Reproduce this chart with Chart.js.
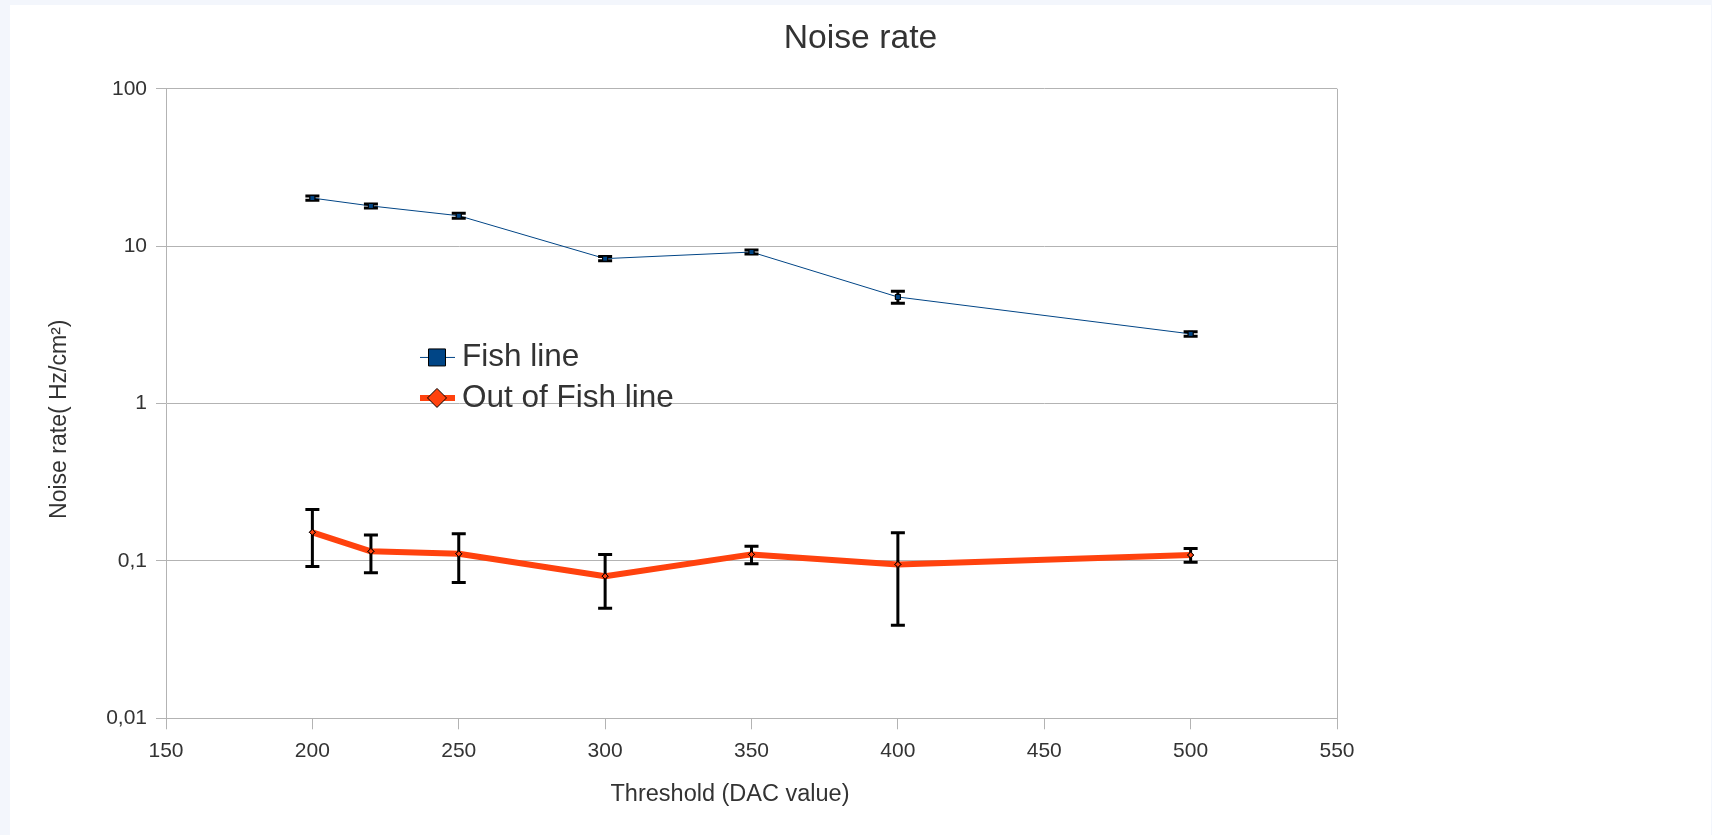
<!DOCTYPE html>
<html>
<head>
<meta charset="utf-8">
<title>Noise rate</title>
<script src="https://cdn.jsdelivr.net/npm/chart.js@4.4.1/dist/chart.umd.min.js"></script>
<style>
  html, body { margin: 0; padding: 0; width: 1712px; height: 835px; overflow: hidden; background: #f3f6fc; }
  #panel { position: absolute; left: 10px; top: 5px; width: 1701px; height: 830px; background: #ffffff; }
  canvas { display: block; }
</style>
</head>
<body>
<div id="panel"><canvas id="chart" width="1701" height="830"></canvas></div>
<script>
// Threshold scan: measured noise rate per DAC threshold, with uncertainties
const thresholds = [200, 220, 250, 300, 350, 400, 500];
const fishRate   = [20.2, 18.0, 15.6, 8.33, 9.17, 4.75, 2.77];
const fishErr    = [0.65, 0.55, 0.57, 0.27, 0.27, 0.42, 0.09];
const outRate    = [0.152, 0.115, 0.111, 0.080, 0.110, 0.095, 0.109];
const outErr     = [0.060, 0.031, 0.038, 0.030, 0.014, 0.056, 0.011];

const seriesNames = ['Fish line', 'Out of Fish line'];
const yTickValues = [0.01, 0.1, 1, 10, 100];
const yTickLabels = ['0,01', '0,1', '1', '10', '100'];
const xTickValues = [150, 200, 250, 300, 350, 400, 450, 500, 550];

const chartTitle = 'Noise rate';
const xTitle = 'Threshold (DAC value)';
const yTitle = 'Noise rate( Hz/cm²)';

const FONT = '"Liberation Sans", Arial, sans-serif';
const TEXT = '#333333';
const GRID = '#b3b3b3';

const toPoints = (xs, ys) => xs.map((x, i) => ({ x: x, y: ys[i] }));

// Vertical error bars with caps, drawn on top of the lines; markers are redrawn above them
const errorBars = {
  id: 'errorBars',
  afterDatasetsDraw(chart) {
    const { ctx, scales: { x, y } } = chart;
    ctx.save();
    ctx.strokeStyle = '#000000';
    ctx.lineWidth = 3;
    chart.data.datasets.forEach((ds) => {
      if (!ds.errors) return;
      ds.data.forEach((p, j) => {
        const e = ds.errors[j];
        const px = x.getPixelForValue(p.x);
        const top = y.getPixelForValue(p.y + e);
        const bot = y.getPixelForValue(p.y - e);
        ctx.beginPath();
        ctx.moveTo(px, top); ctx.lineTo(px, bot);
        ctx.moveTo(px - 7, top); ctx.lineTo(px + 7, top);
        ctx.moveTo(px - 7, bot); ctx.lineTo(px + 7, bot);
        ctx.stroke();
      });
    });
    ctx.restore();
    chart.data.datasets.forEach((ds, i) => {
      chart.getDatasetMeta(i).data.forEach(pt => pt.draw(ctx, chart.chartArea));
    });
  }
};

// Axis titles and the in-plot legend
const annotations = {
  id: 'annotations',
  afterDraw(chart) {
    const { ctx, chartArea: a } = chart;
    ctx.save();
    ctx.fillStyle = TEXT;

    // x axis title
    ctx.font = '23.5px ' + FONT;
    ctx.textAlign = 'center';
    ctx.textBaseline = 'alphabetic';
    ctx.fillText(xTitle, (a.left + a.right) / 2 - 21.5, a.bottom + 82.7);

    // y axis title, rotated
    ctx.save();
    ctx.font = '23px ' + FONT;
    ctx.translate(55.7, (a.top + a.bottom) / 2 + 15.7);
    ctx.rotate(-Math.PI / 2);
    ctx.fillText(yTitle, 0, 0);
    ctx.restore();

    // legend
    const lineX0 = a.left + 254, lineX1 = a.left + 289, mx = a.left + 271;
    const textX = a.left + 296;
    chart.data.datasets.forEach((ds, i) => {
      const cy = a.top + 268.7 + i * 40.5;
      ctx.strokeStyle = ds.borderColor;
      ctx.lineWidth = ds.borderWidth;
      ctx.beginPath();
      ctx.moveTo(lineX0, cy); ctx.lineTo(lineX1, cy);
      ctx.stroke();

      ctx.fillStyle = ds.pointBackgroundColor;
      ctx.strokeStyle = '#000000';
      ctx.lineWidth = 1;
      ctx.beginPath();
      if (ds.pointStyle === 'rect') {
        ctx.rect(mx - 8.5, cy - 8.5, 17, 17);
      } else {
        ctx.moveTo(mx, cy - 9.5); ctx.lineTo(mx + 9.5, cy);
        ctx.lineTo(mx, cy + 9.5); ctx.lineTo(mx - 9.5, cy);
        ctx.closePath();
      }
      ctx.fill();
      ctx.stroke();

      ctx.fillStyle = TEXT;
      ctx.font = '31.5px ' + FONT;
      ctx.textAlign = 'left';
      ctx.textBaseline = 'alphabetic';
      ctx.fillText(ds.label, textX, cy + 9);
    });
    ctx.restore();
  }
};

new Chart(document.getElementById('chart'), {
  type: 'line',
  data: {
    datasets: [
      {
        label: seriesNames[0],
        data: toPoints(thresholds, fishRate),
        errors: fishErr,
        borderColor: '#004586',
        borderWidth: 1,
        pointStyle: 'rect',
        pointRadius: 3.5,
        pointBackgroundColor: '#004586',
        pointBorderColor: '#000000',
        pointBorderWidth: 1,
        tension: 0
      },
      {
        label: seriesNames[1],
        data: toPoints(thresholds, outRate),
        errors: outErr,
        borderColor: '#ff420e',
        borderWidth: 6,
        borderJoinStyle: 'round',
        pointStyle: 'rectRot',
        pointRadius: 3,
        pointBackgroundColor: '#ff420e',
        pointBorderColor: '#000000',
        pointBorderWidth: 1,
        tension: 0
      }
    ]
  },
  options: {
    responsive: false,
    animation: false,
    devicePixelRatio: 1,
    layout: { padding: 0 },
    plugins: {
      legend: { display: false },
      tooltip: { enabled: false },
      title: {
        display: true,
        text: chartTitle,
        color: TEXT,
        font: { family: FONT, size: 33.7, weight: 'normal' },
        padding: { top: 13, bottom: 30.3 }
      }
    },
    scales: {
      x: {
        type: 'linear',
        min: 150,
        max: 550,
        afterFit(scale) { scale.height = 116.7; },
        afterBuildTicks(scale) { scale.ticks = xTickValues.map(v => ({ value: v })); },
        ticks: {
          color: TEXT,
          font: { family: FONT, size: 21 },
          padding: 9,
          maxRotation: 0,
          callback: v => String(v)
        },
        grid: {
          drawOnChartArea: true,
          color: ctx => (ctx.tick && ctx.tick.value === 550 ? GRID : 'rgba(0,0,0,0)'),
          tickColor: GRID,
          tickLength: 11,
          lineWidth: 1
        },
        border: { display: true, color: GRID }
      },
      y: {
        type: 'logarithmic',
        min: 0.01,
        max: 100,
        afterFit(scale) { scale.width = 156; },
        afterBuildTicks(scale) { scale.ticks = yTickValues.map(v => ({ value: v })); },
        ticks: {
          color: TEXT,
          font: { family: FONT, size: 21 },
          padding: 9,
          callback: v => yTickLabels[yTickValues.indexOf(v)]
        },
        grid: {
          color: GRID,
          tickColor: GRID,
          tickLength: 10,
          lineWidth: 1
        },
        border: { display: true, color: GRID }
      },
      // empty margin to the right of the plot
      spacer: {
        type: 'linear',
        position: 'right',
        display: true,
        afterFit(scale) { scale.width = 374; },
        ticks: { display: false },
        grid: { display: false, drawTicks: false },
        border: { display: false }
      }
    }
  },
  plugins: [errorBars, annotations]
});
</script>
</body>
</html>
